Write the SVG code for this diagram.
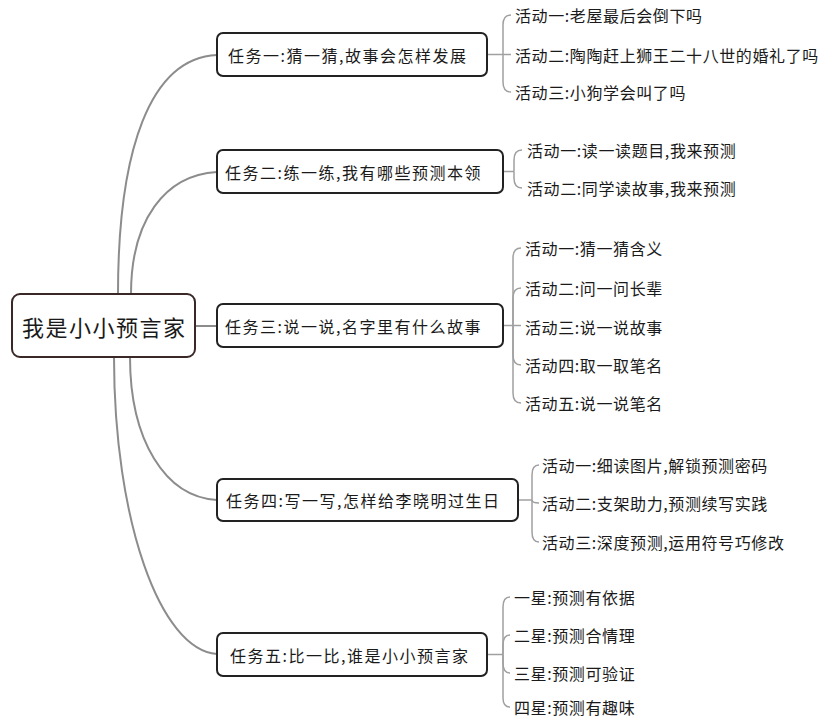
<svg xmlns="http://www.w3.org/2000/svg" width="819" height="720" viewBox="0 0 819 720">
<style>
text{font-family:"Noto Sans CJK SC","Noto Sans",sans-serif;fill:#1a1a1a;dominant-baseline:central}
.root rect{fill:#fff;stroke:#3a2828;stroke-width:2}
.root text{font-size:22px;letter-spacing:1.5px}
.task rect{fill:#fff;stroke:#222;stroke-width:2}
.task text{font-size:16px;letter-spacing:1.5px}
.leaf text{font-size:16px;letter-spacing:0.6px}
.main path{fill:none;stroke:#8c8c8c;stroke-width:2}
.br path{fill:none;stroke:#a0a0a0;stroke-width:1.5}
</style>
<rect width="819" height="720" fill="#fff"/>
<g id="connectors">
<g class="main">
<path d="M118,294 C118,150 150,58 217,55"/>
<path d="M131,294 C131,220 165,175 217,172"/>
<path d="M195,326 H217"/>
<path d="M130,357 C130,440 165,497 217,500"/>
<path d="M114,357 C114,520 160,650 217,654"/>
</g>
<g class="br">
<path d="M487,54.5 H511"/>
<path d="M503,54.5 V25 Q503,15 511,15"/>
<path d="M503,54.5 V82 Q503,92 511,92"/>
<path d="M503,171.5 H514"/>
<path d="M514,171.5 V160 Q514,150 522,150"/>
<path d="M514,171.5 V178 Q514,188 522,188"/>
<path d="M503,325.5 H521"/>
<path d="M513,325.5 V258 Q513,248 521,248"/>
<path d="M513,325.5 V298 Q513,288 521,288"/>
<path d="M513,325.5 V355 Q513,365 521,365"/>
<path d="M513,325.5 V393 Q513,403 521,403"/>
<path d="M518,500 H532"/>
<path d="M532,500 V475 Q532,465 539,465"/>
<path d="M532,500 Q532,503 539,503"/>
<path d="M532,500 V532 Q532,542 539,542"/>
<path d="M487,654.5 H503"/>
<path d="M503,654.5 V607 Q503,597 510,597"/>
<path d="M503,654.5 V645 Q503,635 510,635"/>
<path d="M503,654.5 V663 Q503,673 510,673"/>
<path d="M503,654.5 V698 Q503,707 510,707"/>
</g>
</g>
<g id="root" class="root">
<rect x="12" y="294" width="183" height="63" rx="8"/>
<text x="22" y="326">我是小小预言家</text>
</g>
<g id="task1" class="task">
<rect x="217" y="33" width="270" height="43" rx="6"/>
<text x="228" y="54.5">任务一:猜一猜,故事会怎样发展</text>
</g>
<g id="task2" class="task">
<rect x="217" y="150" width="286" height="43" rx="6"/>
<text x="225" y="171.5">任务二:练一练,我有哪些预测本领</text>
</g>
<g id="task3" class="task">
<rect x="217" y="304" width="286" height="43" rx="6"/>
<text x="225" y="325.5">任务三:说一说,名字里有什么故事</text>
</g>
<g id="task4" class="task">
<rect x="217" y="479" width="301" height="42" rx="6"/>
<text x="226" y="500">任务四:写一写,怎样给李晓明过生日</text>
</g>
<g id="task5" class="task">
<rect x="217" y="633" width="270" height="43" rx="6"/>
<text x="230" y="654.5">任务五:比一比,谁是小小预言家</text>
</g>
<g id="leaves1" class="leaf">
<text x="515" y="15">活动一:老屋最后会倒下吗</text>
<text x="515" y="55">活动二:陶陶赶上狮王二十八世的婚礼了吗</text>
<text x="515" y="92">活动三:小狗学会叫了吗</text>
</g>
<g id="leaves2" class="leaf">
<text x="527" y="150">活动一:读一读题目,我来预测</text>
<text x="527" y="188">活动二:同学读故事,我来预测</text>
</g>
<g id="leaves3" class="leaf">
<text x="525" y="248">活动一:猜一猜含义</text>
<text x="525" y="288">活动二:问一问长辈</text>
<text x="525" y="327">活动三:说一说故事</text>
<text x="525" y="365">活动四:取一取笔名</text>
<text x="525" y="403">活动五:说一说笔名</text>
</g>
<g id="leaves4" class="leaf">
<text x="542" y="465">活动一:细读图片,解锁预测密码</text>
<text x="542" y="503">活动二:支架助力,预测续写实践</text>
<text x="542" y="542">活动三:深度预测,运用符号巧修改</text>
</g>
<g id="leaves5" class="leaf">
<text x="514" y="597">一星:预测有依据</text>
<text x="514" y="635">二星:预测合情理</text>
<text x="514" y="673">三星:预测可验证</text>
<text x="514" y="707">四星:预测有趣味</text>
</g>
</svg>
